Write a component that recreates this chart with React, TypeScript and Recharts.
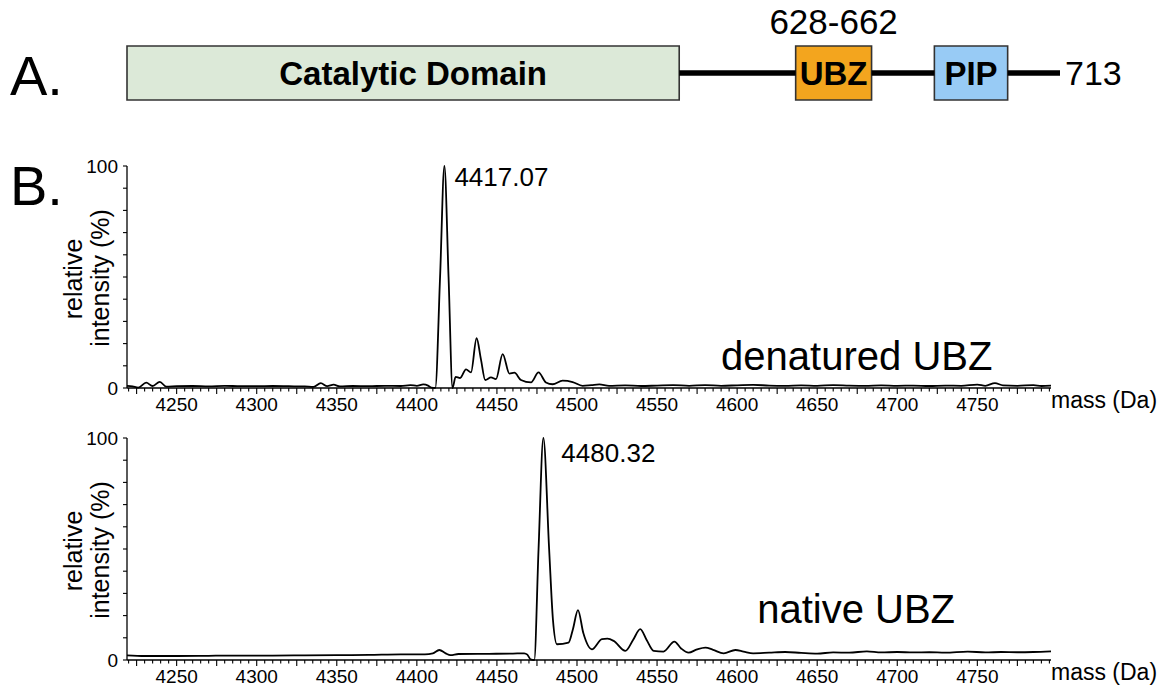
import React from 'react';
import { LineChart, Line, XAxis, YAxis, ComposedChart, ReferenceArea, ReferenceDot } from 'recharts';

const FONT = '"Liberation Sans", Arial, Helvetica, sans-serif';

// A. domain map (schematic residue positions, not to scale)
const proteinLength = 713;
const domainNames = ['Catalytic Domain', 'UBZ', 'PIP'];
const domainStart = [0, 511, 617];
const domainEnd = [422, 569, 673];
const ubzRangeLabel = '628-662';

// B. mass spectra
const massLabels = [4250, 4300, 4350, 4400, 4450, 4500, 4550, 4600, 4650, 4700, 4750];
const intensityTicks = [0, 10, 20, 30, 40, 50, 60, 70, 80, 90, 100];

const denaturedMass = [
  4219, 4222.5, 4226, 4231, 4235, 4239.5, 4243.5, 4250, 4260, 4270, 4280, 4290, 4300, 4310, 4320, 4330,
  4335.5, 4340, 4344, 4348, 4352, 4360, 4370, 4380, 4390, 4396, 4400, 4404, 4407, 4409, 4411.5, 4414.5,
  4417.2, 4419.8, 4422.3, 4424.2, 4427, 4430.7, 4433.8, 4437.3, 4440, 4442.7, 4446.3, 4449.4, 4453.6,
  4457.8, 4460.9, 4465, 4471.3, 4476, 4480.6, 4484.8, 4491, 4497.3, 4503.5, 4509, 4514, 4520, 4530, 4540,
  4550, 4560, 4570, 4580, 4590, 4600, 4610, 4620, 4630, 4640, 4650, 4660, 4670, 4680, 4690, 4700, 4710,
  4720, 4730, 4740, 4750, 4755, 4761, 4766, 4775, 4785, 4790, 4796,
];
const denaturedIntensity = [
  1.0, 0.7, 0.2, 2.4, 0.9, 2.8, 0.6, 0.8, 0.9, 0.7, 1.0, 0.8, 0.8, 0.9, 0.8, 0.7,
  0.5, 2.2, 0.8, 1.5, 0.7, 0.9, 0.8, 1.0, 0.9, 1.3, 1.0, 1.6, 1.1, 0.2, 0.0, 50,
  100, 50, 0.0, 5.0, 4.5, 8.4, 7.0, 22.4, 13, 3.6, 4.8, 4.0, 15.3,
  6.5, 6.9, 3.6, 2.5, 7.0, 2.5, 1.7, 3.3, 2.7, 1.0, 1.3, 1.6, 1.0, 1.2, 0.9,
  1.1, 1.3, 1.0, 1.3, 1.0, 1.2, 1.4, 1.1, 1.0, 1.2, 1.0, 1.3, 1.1, 1.0, 1.2, 1.0, 1.1,
  0.9, 1.1, 1.0, 1.5, 1.0, 2.2, 1.2, 1.0, 1.3, 0.9, 1.1,
];

const nativeMass = [
  4219, 4230, 4250, 4270, 4290, 4310, 4330, 4350, 4370, 4390, 4405, 4410, 4414, 4418, 4421, 4426, 4445,
  4460, 4467, 4469, 4471, 4473.3, 4476, 4479, 4482.6, 4485, 4487.5, 4494.7, 4497.5, 4500.6, 4504, 4509.3,
  4515.6, 4519, 4522.9, 4530.2, 4535, 4539.5, 4543.5, 4547.9, 4554, 4560.8, 4565, 4569.7, 4575, 4580.2,
  4585, 4591.6, 4598.9, 4604, 4610, 4620, 4630, 4640, 4650, 4660, 4670, 4681, 4690, 4700, 4710, 4720,
  4730, 4744, 4755, 4765, 4775, 4785, 4796,
];
const nativeIntensity = [
  2.1, 1.8, 1.8, 1.9, 2.0, 2.0, 2.1, 2.2, 2.3, 2.5, 2.5, 3.0, 4.5, 3.0, 2.2, 2.7, 2.8,
  2.9, 3.0, 2.4, 0.3, 0, 50, 100, 50, 18, 7.1, 7.8, 14, 22.5, 12, 4.8,
  9.4, 9.6, 8.6, 4.1, 9, 13.9, 9, 4.1, 3.8, 8.3, 5.2, 3.3, 4.8, 5.6,
  4.6, 3.0, 4.5, 3.8, 3.0, 3.3, 3.6, 3.2, 2.9, 3.4, 3.3, 3.9, 3.4, 3.6, 3.4, 3.5,
  3.3, 3.8, 3.4, 3.6, 3.5, 3.6, 3.9,
];

const massTicks: number[] = [];
for (let m = 4220; m <= 4795; m += 5) massTicks.push(m);

const toRows = (mass: number[], intensity: number[]) => mass.map((m, i) => ({ mass: m, intensity: intensity[i] }));
const denaturedData = toRows(denaturedMass, denaturedIntensity);
const nativeData = toRows(nativeMass, nativeIntensity);

// backbone: linker segments between the domain boxes, broken under each box
const backbone: { residue: number; level: number | null }[] = [];
domainEnd.forEach((e, i) => {
  const next = i + 1 < domainStart.length ? domainStart[i + 1] : proteinLength;
  backbone.push({ residue: e, level: 0.5 }, { residue: next, level: 0.5 });
  if (i + 1 < domainStart.length) backbone.push({ residue: (next + domainEnd[i + 1]) / 2, level: null });
});

const domainFill = ['#dce9d8', '#f3a51e', '#98cbf5'];
const domainLabelDx = [10, 0, 0];

// text placed relative to the centre of whatever the label is attached to
const textAt = (text: string, dx: number, dy: number, size: number, anchor = 'start', weight = 'normal') =>
  (p: any) => {
    const vb = p.viewBox || { x: 0, y: 0, width: 0, height: 0 };
    return (
      <text x={vb.x + vb.width / 2 + dx} y={vb.y + vb.height / 2 + dy} textAnchor={anchor} fontSize={size}
        fontWeight={weight} fontFamily={FONT} fill="#000">{text}</text>
    );
  };

const MassTick = (props: any) => {
  const { x, y, payload } = props;
  const v = payload.value;
  const major = v % 25 === 0;
  return (
    <g>
      <line x1={x} x2={x} y1={y} y2={y + (major ? 6 : 3.5)} stroke="#000" strokeWidth={1.1} />
      {massLabels.includes(v) && (
        <text x={x} y={y + 22.7} textAnchor="middle" fontSize={19} fontFamily={FONT} fill="#000">{v}</text>
      )}
    </g>
  );
};

const IntensityTick = (props: any) => {
  const { x, y, payload } = props;
  if (payload.value !== 0 && payload.value !== 100) return <g />;
  return (
    <text x={x} y={y} dy="0.36em" textAnchor="end" fontSize={19} fontFamily={FONT} fill="#000">{payload.value}</text>
  );
};

const massTitle = (p: any) => {
  const vb = p.viewBox;
  return (
    <text x={vb.x + vb.width} y={vb.y + 20} fontSize={23} fontFamily={FONT} fill="#000">mass (Da)</text>
  );
};

const intensityTitle = (p: any) => {
  const vb = p.viewBox;
  const cy = vb.y + vb.height / 2;
  return (
    <g>
      <text x={vb.x + 82} y={cy + 2} transform={`rotate(-90, ${vb.x + 82}, ${cy + 2})`} textAnchor="middle"
        fontSize={25} fontFamily={FONT} fill="#000">relative</text>
      <text x={vb.x + 109} y={cy + 1} transform={`rotate(-90, ${vb.x + 109}, ${cy + 1})`} textAnchor="middle"
        fontSize={25} fontFamily={FONT} fill="#000">intensity (%)</text>
    </g>
  );
};

interface SpectrumProps {
  data: { mass: number; intensity: number }[];
  top: number;
  peak: number;
  peakLabel: string;
  peakDx: number;
  peakDy: number;
  name: string;
  nameMass: number;
  nameDy: number;
}

function Spectrum({ data, top, peak, peakLabel, peakDx, peakDy, name, nameMass, nameDy }: SpectrumProps) {
  return (
    <div style={{ position: 'absolute', left: 0, top }}>
      <LineChart width={1167} height={290} data={data} margin={{ top: 26, right: 116, bottom: 0, left: 0 }}>
        <XAxis dataKey="mass" type="number" domain={[4219, 4796]} ticks={massTicks} interval={0} height={42}
          tickSize={0} tickMargin={0} tickLine={false} tick={<MassTick />}
          axisLine={{ stroke: '#000', strokeWidth: 1.3 }} label={massTitle} />
        <YAxis type="number" domain={[0, 100]} ticks={intensityTicks} interval={0} width={127}
          tickSize={4} tickMargin={5} tick={<IntensityTick />} tickLine={{ stroke: '#000', strokeWidth: 1.1 }}
          axisLine={{ stroke: '#000', strokeWidth: 1.3 }} label={intensityTitle} />
        <Line dataKey="intensity" type="monotone" stroke="#000" strokeWidth={1.8} dot={false} isAnimationActive={false} />
        <ReferenceDot x={peak} y={100} r={0} fill="none" stroke="none" label={textAt(peakLabel, peakDx, peakDy, 26)} />
        <ReferenceDot x={nameMass} y={0} r={0} fill="none" stroke="none" label={textAt(name, 0, nameDy, 40)} />
      </LineChart>
    </div>
  );
}

const letterStyle = (top: number): React.CSSProperties => ({
  position: 'absolute', left: 10, top, fontSize: 56, lineHeight: '56px', fontFamily: FONT, color: '#000',
});

export default function App() {
  return (
    <div style={{ position: 'absolute', left: 0, top: 0, width: 1167, height: 689, background: '#fff', overflow: 'hidden' }}>
      <div style={letterStyle(47.6)}>A.</div>
      <div style={letterStyle(157.6)}>B.</div>

      <div style={{ position: 'absolute', left: 0, top: 0 }}>
        <ComposedChart width={1167} height={110} data={backbone} margin={{ top: 46, right: 107, bottom: 10, left: 127 }}>
          <XAxis dataKey="residue" type="number" domain={[0, proteinLength]} hide />
          <YAxis type="number" domain={[0, 1]} hide />
          <Line dataKey="level" type="linear" stroke="#000" strokeWidth={5.5} dot={false} connectNulls={false}
            isAnimationActive={false} />
          {domainNames.map((n, i) => (
            <ReferenceArea key={n} x1={domainStart[i]} x2={domainEnd[i]} y1={0} y2={1} fill={domainFill[i]}
              fillOpacity={1} stroke="#333" strokeWidth={1.6}
              label={(p: any) => (
                <g>
                  {textAt(n, domainLabelDx[i], 12, 33, 'middle', 'bold')(p)}
                  {n === 'UBZ' && textAt(ubzRangeLabel, 0, -p.viewBox.height / 2 - 12, 35, 'middle')(p)}
                </g>
              )} />
          ))}
          <ReferenceDot x={proteinLength} y={0.5} r={0} fill="none" stroke="none"
            label={textAt(String(proteinLength), 5, 12, 34)} />
        </ComposedChart>
      </div>

      <Spectrum data={denaturedData} top={140} peak={4417.2} peakLabel="4417.07" peakDx={10} peakDy={20}
        name="denatured UBZ" nameMass={4590} nameDy={-18} />
      <Spectrum data={nativeData} top={412} peak={4479} peakLabel="4480.32" peakDx={18} peakDy={24}
        name="native UBZ" nameMass={4612.5} nameDy={-37} />
    </div>
  );
}
